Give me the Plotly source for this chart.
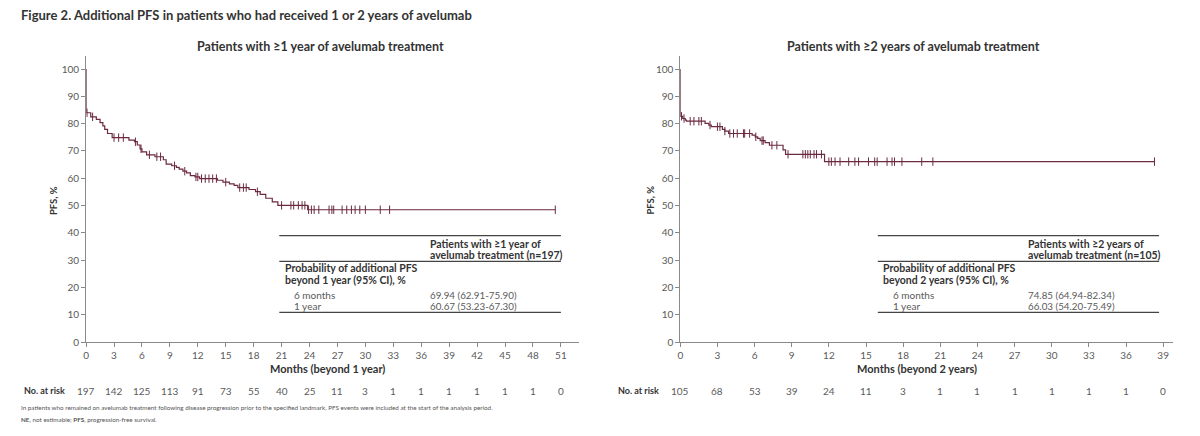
import plotly.graph_objects as go
import numpy as np

# ---------------- data ----------------
times_L = [0, 0, 0.5, 1.1, 1.5, 1.8, 2.0, 2.3, 2.8, 4.6, 5.2, 5.5, 5.8, 6.0, 6.5, 7.4, 8.3, 8.6, 9.2,
           9.7, 10.0, 10.4, 10.8, 11.2, 11.7, 12.2, 14.1, 14.7, 15.4, 15.9, 16.3, 17.5, 18.2, 18.7,
           19.3, 20.0, 20.6, 23.8, 50.4]
surv_L = [100, 84, 82.5, 81.6, 80.4, 79.2, 77.9, 76.4, 74.9, 74.0, 73.4, 72.2, 70.8, 69.7, 68.6, 67.9,
          66.8, 65.2, 64.6, 64.0, 63.4, 62.6, 62.0, 61.0, 60.5, 59.9, 59.3, 58.6, 58.0, 57.4, 56.6, 55.9,
          55.1, 54.1, 52.7, 51.4, 50.1, 48.5, 48.5]
censor_L = [0.1, 0.7, 3.0, 3.5, 4.0, 5.3, 5.9, 6.8, 7.6, 8.0, 9.5, 10.6, 11.8, 12.0, 12.4, 12.8, 13.2,
            13.6, 14.0, 15.0, 16.5, 16.9, 17.2, 18.4, 21.0, 22.0, 22.3, 22.8, 23.2, 23.5, 23.9, 24.2,
            24.5, 25.0, 26.1, 26.4, 26.6, 27.5, 28.0, 28.5, 28.9, 29.4, 30.0, 31.6, 32.6, 50.4]

times_R = [0, 0, 0.2, 0.4, 0.5, 2.0, 2.3, 2.5, 3.4, 3.6, 3.9, 5.8, 6.05, 6.25, 6.45, 6.85, 7.2, 8.3,
           8.5, 11.65, 38.3]
surv_R = [100, 82.7, 81.9, 81.3, 80.9, 80.1, 79.5, 78.9, 77.9, 77.3, 76.4, 75.8, 75.2, 74.6, 73.8,
          73.1, 72.1, 70.4, 68.8, 66.1, 66.1]
censor_R = [0.1, 0.3, 0.8, 1.1, 1.5, 1.7, 2.4, 3.0, 3.2, 3.6, 4.0, 4.3, 4.6, 5.1, 5.2, 5.6, 6.1, 6.6,
            6.7, 7.4, 7.8, 8.7, 9.9, 10.1, 10.3, 10.5, 10.8, 11.0, 11.4, 12.0, 12.2, 12.5, 12.9, 13.6,
            14.1, 14.4, 15.2, 15.7, 15.9, 16.7, 17.1, 17.3, 17.9, 19.5, 20.4, 38.3]

ticks_L = list(range(0, 52, 3))
risk_L = [197, 142, 125, 113, 91, 73, 55, 40, 25, 11, 3, 1, 1, 1, 1, 1, 1, 0]
ticks_R = list(range(0, 40, 3))
risk_R = [105, 68, 53, 39, 24, 11, 3, 1, 1, 1, 1, 1, 1, 0]

table_L = {"header": ["Patients with ≥1 year of", "avelumab treatment (n=197)"],
           "rowlabel": ["Probability of additional PFS", "beyond 1 year (95% CI), %"],
           "rows": ["6 months", "1 year"], "vals": ["69.94 (62.91-75.90)", "60.67 (53.23-67.30)"]}
table_R = {"header": ["Patients with ≥2 years of", "avelumab treatment (n=105)"],
           "rowlabel": ["Probability of additional PFS", "beyond 2 years (95% CI), %"],
           "rows": ["6 months", "1 year"], "vals": ["74.85 (64.94-82.34)", "66.03 (54.20-75.49)"]}

# ---------------- style ----------------
W, H = 1200, 436
FONT = "Lato"
CURVE = "#6b2a3f"
AX = "#8a8a8a"
TXT = "#5a5a5a"
DARK = "#333333"

def px(x):
    return x / W

def py(y):
    return 1 - y / H

def step_val(times, surv, t):
    idx = np.searchsorted(np.array(times), t, side="right") - 1
    return surv[max(idx, 0)]

fig = go.Figure()

panels = [
    dict(times=times_L, surv=surv_L, cens=censor_L, xa="x", ya="y"),
    dict(times=times_R, surv=surv_R, cens=censor_R, xa="x2", ya="y2"),
]
for p in panels:
    fig.add_trace(go.Scatter(x=p["times"], y=p["surv"], mode="lines",
                             line=dict(color=CURVE, width=1.2, shape="hv"),
                             xaxis=p["xa"], yaxis=p["ya"], showlegend=False, hoverinfo="skip"))
    cy = [step_val(p["times"], p["surv"], t) for t in p["cens"]]
    fig.add_trace(go.Scatter(x=p["cens"], y=cy, mode="markers",
                             marker=dict(symbol="line-ns", size=6, line=dict(color=CURVE, width=1)),
                             xaxis=p["xa"], yaxis=p["ya"], showlegend=False, hoverinfo="skip"))

Y0, Y100 = 347, 70
ppu = (Y0 - Y100) / 100.0
ydom = [py(Y0), py(57)]
yrange = [0, (Y0 - 57) / ppu]
common_x = dict(showline=True, linecolor=AX, linewidth=1, ticks="outside", tickcolor=AX, ticklen=4,
                showgrid=False, zeroline=False, tickfont=dict(family=FONT, size=10, color=TXT))
common_y = dict(showline=True, linecolor=AX, linewidth=1, ticks="outside", tickcolor=AX, ticklen=4,
                showgrid=False, zeroline=False, tickfont=dict(family=FONT, size=10, color=TXT),
                tickvals=list(range(0, 101, 10)), range=yrange, domain=ydom)

fig.update_layout(
    width=W, height=H, margin=dict(l=0, r=0, t=0, b=0),
    paper_bgcolor="white", plot_bgcolor="white",
    xaxis=dict(domain=[px(83.3), px(577)], range=[0, 52.9], tickvals=ticks_L, anchor="y", **common_x),
    yaxis=dict(anchor="x", **common_y),
    xaxis2=dict(domain=[px(679), px(1173)], range=[0, 39.8], tickvals=ticks_R, anchor="y2", **common_x),
    yaxis2=dict(anchor="x2", **common_y),
)

ann = []
def A(text, x, y, size=10, color="#222", xanchor="left", yanchor="middle", bold=False, xref="paper",
      yref="paper", **kw):
    t = f"<b>{text}</b>" if bold else text
    ann.append(dict(text=t, x=x, y=y, xref=xref, yref=yref, showarrow=False, xanchor=xanchor, yanchor=yanchor,
                    font=dict(family=FONT, size=size, color=color), **kw))

# figure title
A("Figure 2. Additional PFS in patients who had received 1 or 2 years of avelumab", px(16), py(15), size=13,
  color=DARK, bold=True)
# panel titles
A("Patients with ≥1 year of avelumab treatment", px(318), py(47), size=12.5, color=DARK, xanchor="center", bold=True)
A("Patients with ≥2 years of avelumab treatment", px(913), py(47), size=12.5, color=DARK, xanchor="center", bold=True)
# y titles
A("PFS, %", px(50), py(203), size=9.5, color=DARK, xanchor="center", bold=True, textangle=-90)
A("PFS, %", px(649), py(203), size=9.5, color=DARK, xanchor="center", bold=True, textangle=-90)
# x titles
A("Months (beyond 1 year)", px(325), py(374), size=11, color=DARK, xanchor="center", bold=True)
A("Months (beyond 2 years)", px(916), py(374), size=11, color=DARK, xanchor="center", bold=True)
# number at risk
A("No. at risk", px(64), py(396), size=9, color=DARK, xanchor="right", bold=True)
A("No. at risk", px(660), py(396), size=9, color=DARK, xanchor="right", bold=True)
for t, r in zip(ticks_L, risk_L):
    A(str(r), t, py(396), size=10, color=TXT, xanchor="center", xref="x")
for t, r in zip(ticks_R, risk_R):
    A(str(r), t, py(396), size=10, color=TXT, xanchor="center", xref="x2")
# footnotes
A("In patients who remained on avelumab treatment following disease progression prior to the specified landmark, "
  "PFS events were included at the start of the analysis period.", px(16), py(413), size=6.3, color="#555")
A("<b>NE</b>, not estimable; <b>PFS</b>, progression-free survival.", px(16), py(425), size=6.3, color="#555")

# tables
shapes = []
for x0, x1, tb in [(277, 559.3, table_L), (877, 1159, table_R)]:
    for yy in [239, 265, 316.7]:
        shapes.append(dict(type="line", xref="paper", yref="paper", x0=px(x0), x1=px(x1), y0=py(yy), y1=py(yy),
                           line=dict(color="#444", width=1.2)))
    for txt, yy in zip(tb["header"], [247, 259]):
        A(txt, px(x0 + 148.7), py(yy), size=10.5, color=DARK, bold=True)
    for txt, yy in zip(tb["rowlabel"], [272, 283.5]):
        A(txt, px(x0 + 3.7), py(yy), size=10.5, color=DARK, bold=True)
    for txt, yy in zip(tb["rows"], [299.5, 310]):
        A(txt, px(x0 + 13), py(yy), size=10, color=TXT)
    for txt, yy in zip(tb["vals"], [299.5, 310]):
        A(txt, px(x0 + 148.7), py(yy), size=9.8, color=TXT)

fig.update_layout(annotations=ann, shapes=shapes)
fig.write_html("out.html")
